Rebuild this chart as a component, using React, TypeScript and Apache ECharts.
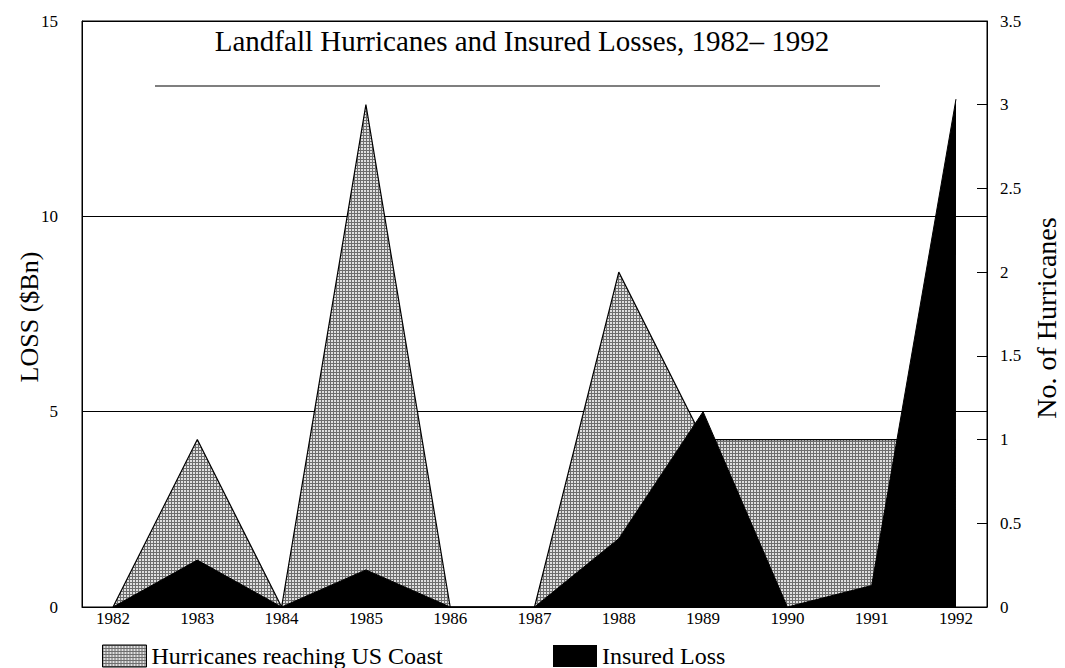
import React, { useEffect, useRef } from "react";
import * as echarts from "echarts";

const years = [1982, 1983, 1984, 1985, 1986, 1987, 1988, 1989, 1990, 1991, 1992];
const hurricanes = [0, 1, 0, 3, 0, 0, 2, 1, 1, 1, 1];
const insuredLoss = [0, 1.2, 0, 0.95, 0, 0, 1.75, 5, 0, 0.55, 13];

const titleText = "Landfall Hurricanes and Insured Losses, 1982\u2013 1992";
const lossName = "LOSS ($Bn)";
const hurrName = "No. of Hurricanes";
const hurrSeriesName = "Hurricanes reaching US Coast";
const lossSeriesName = "Insured Loss";

const FONT = "'Liberation Serif', 'DejaVu Serif', serif";

function makeTexture(): any {
  const c = document.createElement("canvas");
  c.width = 3;
  c.height = 3;
  const ctx = c.getContext("2d");
  if (!ctx) return "#b0b0b0";
  ctx.fillStyle = "#e0e0e0";
  ctx.fillRect(0, 0, 3, 3);
  ctx.fillStyle = "#6e6e6e";
  ctx.fillRect(0, 0, 3, 1);
  ctx.fillRect(0, 0, 1, 3);
  return { image: c, repeat: "repeat" };
}

export default function App() {
  const ref = useRef<HTMLDivElement>(null);
  useEffect(() => {
    if (!ref.current) return;
    const chart = echarts.init(ref.current, undefined, { renderer: "svg" });
    const texture = makeTexture();
    const tickLabel = { fontFamily: FONT, fontSize: 17, color: "#000" };
    chart.setOption({
      animation: false,
      backgroundColor: "#fff",
      grid: {
        left: 82,
        right: 78,
        top: 21,
        bottom: 61,
        show: true,
        borderColor: "#000",
        borderWidth: 1,
      },
      xAxis: {
        type: "value",
        min: 1981.632,
        max: 1992.368,
        axisLine: { show: true, lineStyle: { color: "#000", width: 1 } },
        axisTick: { show: false },
        splitLine: { show: false },
        axisLabel: {
          ...tickLabel,
          margin: 3,
          customValues: years,
          formatter: (v: number) => String(Math.round(v)),
        },
      },
      yAxis: [
        {
          type: "value",
          min: 0,
          max: 15,
          interval: 5,
          position: "left",
          axisLine: { show: true, lineStyle: { color: "#000", width: 1 } },
          axisTick: { show: false },
          splitLine: { show: true, lineStyle: { color: "#000", width: 1 } },
          axisLabel: { ...tickLabel, margin: 24 },
        },
        {
          type: "value",
          min: 0,
          max: 3.5,
          interval: 0.5,
          position: "right",
          axisLine: { show: true, lineStyle: { color: "#000", width: 1 } },
          axisTick: { show: true, inside: true, length: 10, lineStyle: { color: "#000" } },
          splitLine: { show: false },
          axisLabel: { ...tickLabel, margin: 13 },
        },
      ],
      legend: [
        {
          data: [hurrSeriesName],
          left: 97,
          top: 639,
          itemWidth: 44,
          itemHeight: 22,
          icon: "rect",
          itemStyle: { borderColor: "#000", borderWidth: 1 },
          textStyle: { fontFamily: FONT, fontSize: 24, color: "#000" },
        },
        {
          data: [lossSeriesName],
          left: 548,
          top: 639,
          itemWidth: 44,
          itemHeight: 22,
          icon: "rect",
          textStyle: { fontFamily: FONT, fontSize: 24, color: "#000" },
        },
      ],
      series: [
        {
          name: hurrSeriesName,
          type: "line",
          yAxisIndex: 1,
          data: years.map((y, i) => [y, hurricanes[i]]),
          symbol: "none",
          lineStyle: { color: "#000", width: 1.2 },
          itemStyle: { color: texture },
          areaStyle: { color: texture, opacity: 1 },
          z: 2,
        },
        {
          name: lossSeriesName,
          type: "line",
          yAxisIndex: 0,
          data: years.map((y, i) => [y, insuredLoss[i]]),
          symbol: "none",
          lineStyle: { color: "#000", width: 1 },
          itemStyle: { color: "#000" },
          areaStyle: { color: "#000", opacity: 1 },
          z: 3,
        },
      ],
      graphic: [
        {
          type: "text",
          x: 522,
          y: 41,
          style: {
            text: titleText,
            fontFamily: FONT,
            fontSize: 29,
            fill: "#000",
            align: "center",
            verticalAlign: "middle",
          },
          z: 10,
        },
        {
          type: "line",
          shape: { x1: 155, y1: 86, x2: 880, y2: 86 },
          style: { stroke: "#000", lineWidth: 1.2 },
          z: 10,
        },
        {
          type: "text",
          x: 29,
          y: 317,
          rotation: Math.PI / 2,
          style: {
            text: lossName,
            fontFamily: FONT,
            fontSize: 26,
            fill: "#000",
            align: "center",
            verticalAlign: "middle",
          },
        },
        {
          type: "text",
          x: 1046,
          y: 318,
          rotation: Math.PI / 2,
          style: {
            text: hurrName,
            fontFamily: FONT,
            fontSize: 28,
            fill: "#000",
            align: "center",
            verticalAlign: "middle",
          },
        },
      ],
    });
    return () => chart.dispose();
  }, []);
  return (
    <div
      ref={ref}
      style={{ position: "absolute", left: 0, top: 0, width: 1065, height: 668 }}
    />
  );
}
